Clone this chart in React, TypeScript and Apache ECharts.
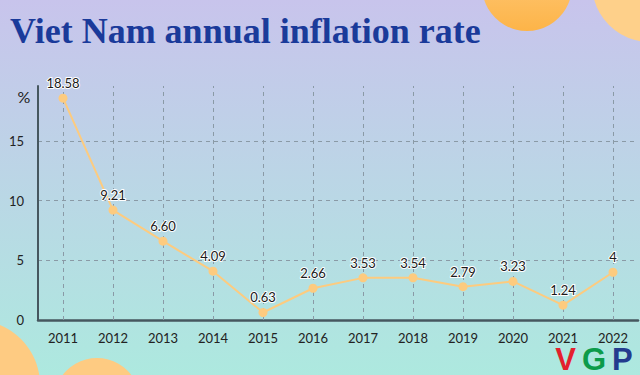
import React, { useEffect, useRef } from "react";
import * as echarts from "echarts";

const years = ["2011", "2012", "2013", "2014", "2015", "2016", "2017", "2018", "2019", "2020", "2021", "2022"];
const inflation = [18.58, 9.21, 6.6, 4.09, 0.63, 2.66, 3.53, 3.54, 2.79, 3.23, 1.24, 4];
const valueLabels = ["18.58", "9.21", "6.60", "4.09", "0.63", "2.66", "3.53", "3.54", "2.79", "3.23", "1.24", "4"];
const titleText = "Viet Nam annual inflation rate";
const unitText = "%";

export default function App() {
  const ref = useRef<HTMLDivElement>(null);
  useEffect(() => {
    if (!ref.current) return;
    const chart = echarts.init(ref.current, null, { renderer: "svg" });
    const orange = new echarts.graphic.LinearGradient(0, 0, 0, 1, [
      { offset: 0, color: "#fed08a" },
      { offset: 1, color: "#fdb448" },
    ]);
    const logoBase = {
      fontSize: 31,
      fontWeight: "bold",
      fontFamily: "'Liberation Sans', Arial, sans-serif",
      lineHeight: 30,
      padding: [0, 3],
    };
    chart.setOption({
      animation: false,
      backgroundColor: new echarts.graphic.LinearGradient(0, 0, 0, 1, [
        { offset: 0, color: "#c8c4ec" },
        { offset: 1, color: "#ade9df" },
      ]),
      graphic: [
        { type: "circle", z: -10, shape: { cx: 527, cy: -14, r: 45 }, style: { fill: orange } },
        { type: "circle", z: -10, shape: { cx: 650, cy: -16, r: 58 }, style: { fill: "#fed08a" } },
        { type: "circle", z: -10, shape: { cx: -25, cy: 385, r: 65 }, style: { fill: "#fecb82" } },
        { type: "circle", z: -10, shape: { cx: 97, cy: 401, r: 43 }, style: { fill: "#fecb82" } },
        {
          type: "text",
          left: 10,
          top: 13,
          style: {
            text: titleText,
            fill: "#1a3a9a",
            font: "bold 36px 'Liberation Serif', 'DejaVu Serif', serif",
          },
        },
        {
          type: "text",
          x: 24,
          y: 96,
          style: {
            text: unitText,
            fill: "#222",
            font: "16px Lato, sans-serif",
            align: "center",
            verticalAlign: "middle",
          },
        },
        {
          type: "text",
          x: 594,
          y: 359,
          style: {
            text: "{v|V}{g|G}{p|P}",
            align: "center",
            verticalAlign: "middle",
            rich: {
              v: { ...logoBase, fill: "#e41f2e", color: "#e41f2e" },
              g: { ...logoBase, fill: "#0c9b4a", color: "#0c9b4a" },
              p: { ...logoBase, fill: "#233b8e", color: "#233b8e" },
            },
          },
        },
      ],
      grid: { left: 38, right: 2, top: 86, bottom: 55 },
      xAxis: {
        type: "category",
        data: years,
        boundaryGap: true,
        axisLine: { show: true, lineStyle: { color: "#46575f", width: 2.5 } },
        axisTick: { show: false },
        axisLabel: { color: "#222", fontSize: 13, fontFamily: "Lato", margin: 11 },
        splitLine: { show: false },
      },
      yAxis: {
        type: "value",
        min: 0,
        max: 19.6,
        interval: 5,
        axisLine: { show: true, lineStyle: { color: "#46575f", width: 2 } },
        axisTick: { show: false },
        axisLabel: {
          color: "#222",
          fontSize: 13,
          fontFamily: "Lato",
          margin: 14,
          showMaxLabel: false,
          formatter: (v: number) => (v % 5 === 0 ? String(v) : ""),
        },
        splitLine: {
          show: true,
          showMinLine: false,
          showMaxLine: false,
          lineStyle: { color: "#8a9aa6", type: [4, 4], width: 1 },
        },
      },
      series: [
        {
          type: "line",
          data: inflation,
          symbol: "circle",
          symbolSize: 9,
          z: 3,
          lineStyle: { color: "#fdcb7f", width: 2 },
          itemStyle: { color: "#fdcb7f" },
          label: {
            show: true,
            position: "top",
            distance: 4,
            formatter: (p: any) => valueLabels[p.dataIndex],
            color: "#1a1a1a",
            fontSize: 13,
            fontFamily: "Lato",
            textBorderColor: "#ffffff",
            textBorderWidth: 2,
          },
          markLine: {
            silent: true,
            symbol: "none",
            z: 1,
            label: { show: false },
            lineStyle: { color: "#8a9aa6", type: [4, 4], width: 1 },
            emphasis: { disabled: true },
            data: years.map((y) => ({ xAxis: y })),
          },
        },
      ],
    });
    return () => chart.dispose();
  }, []);
  return <div ref={ref} style={{ width: 640, height: 375, position: "absolute", left: 0, top: 0 }} />;
}
